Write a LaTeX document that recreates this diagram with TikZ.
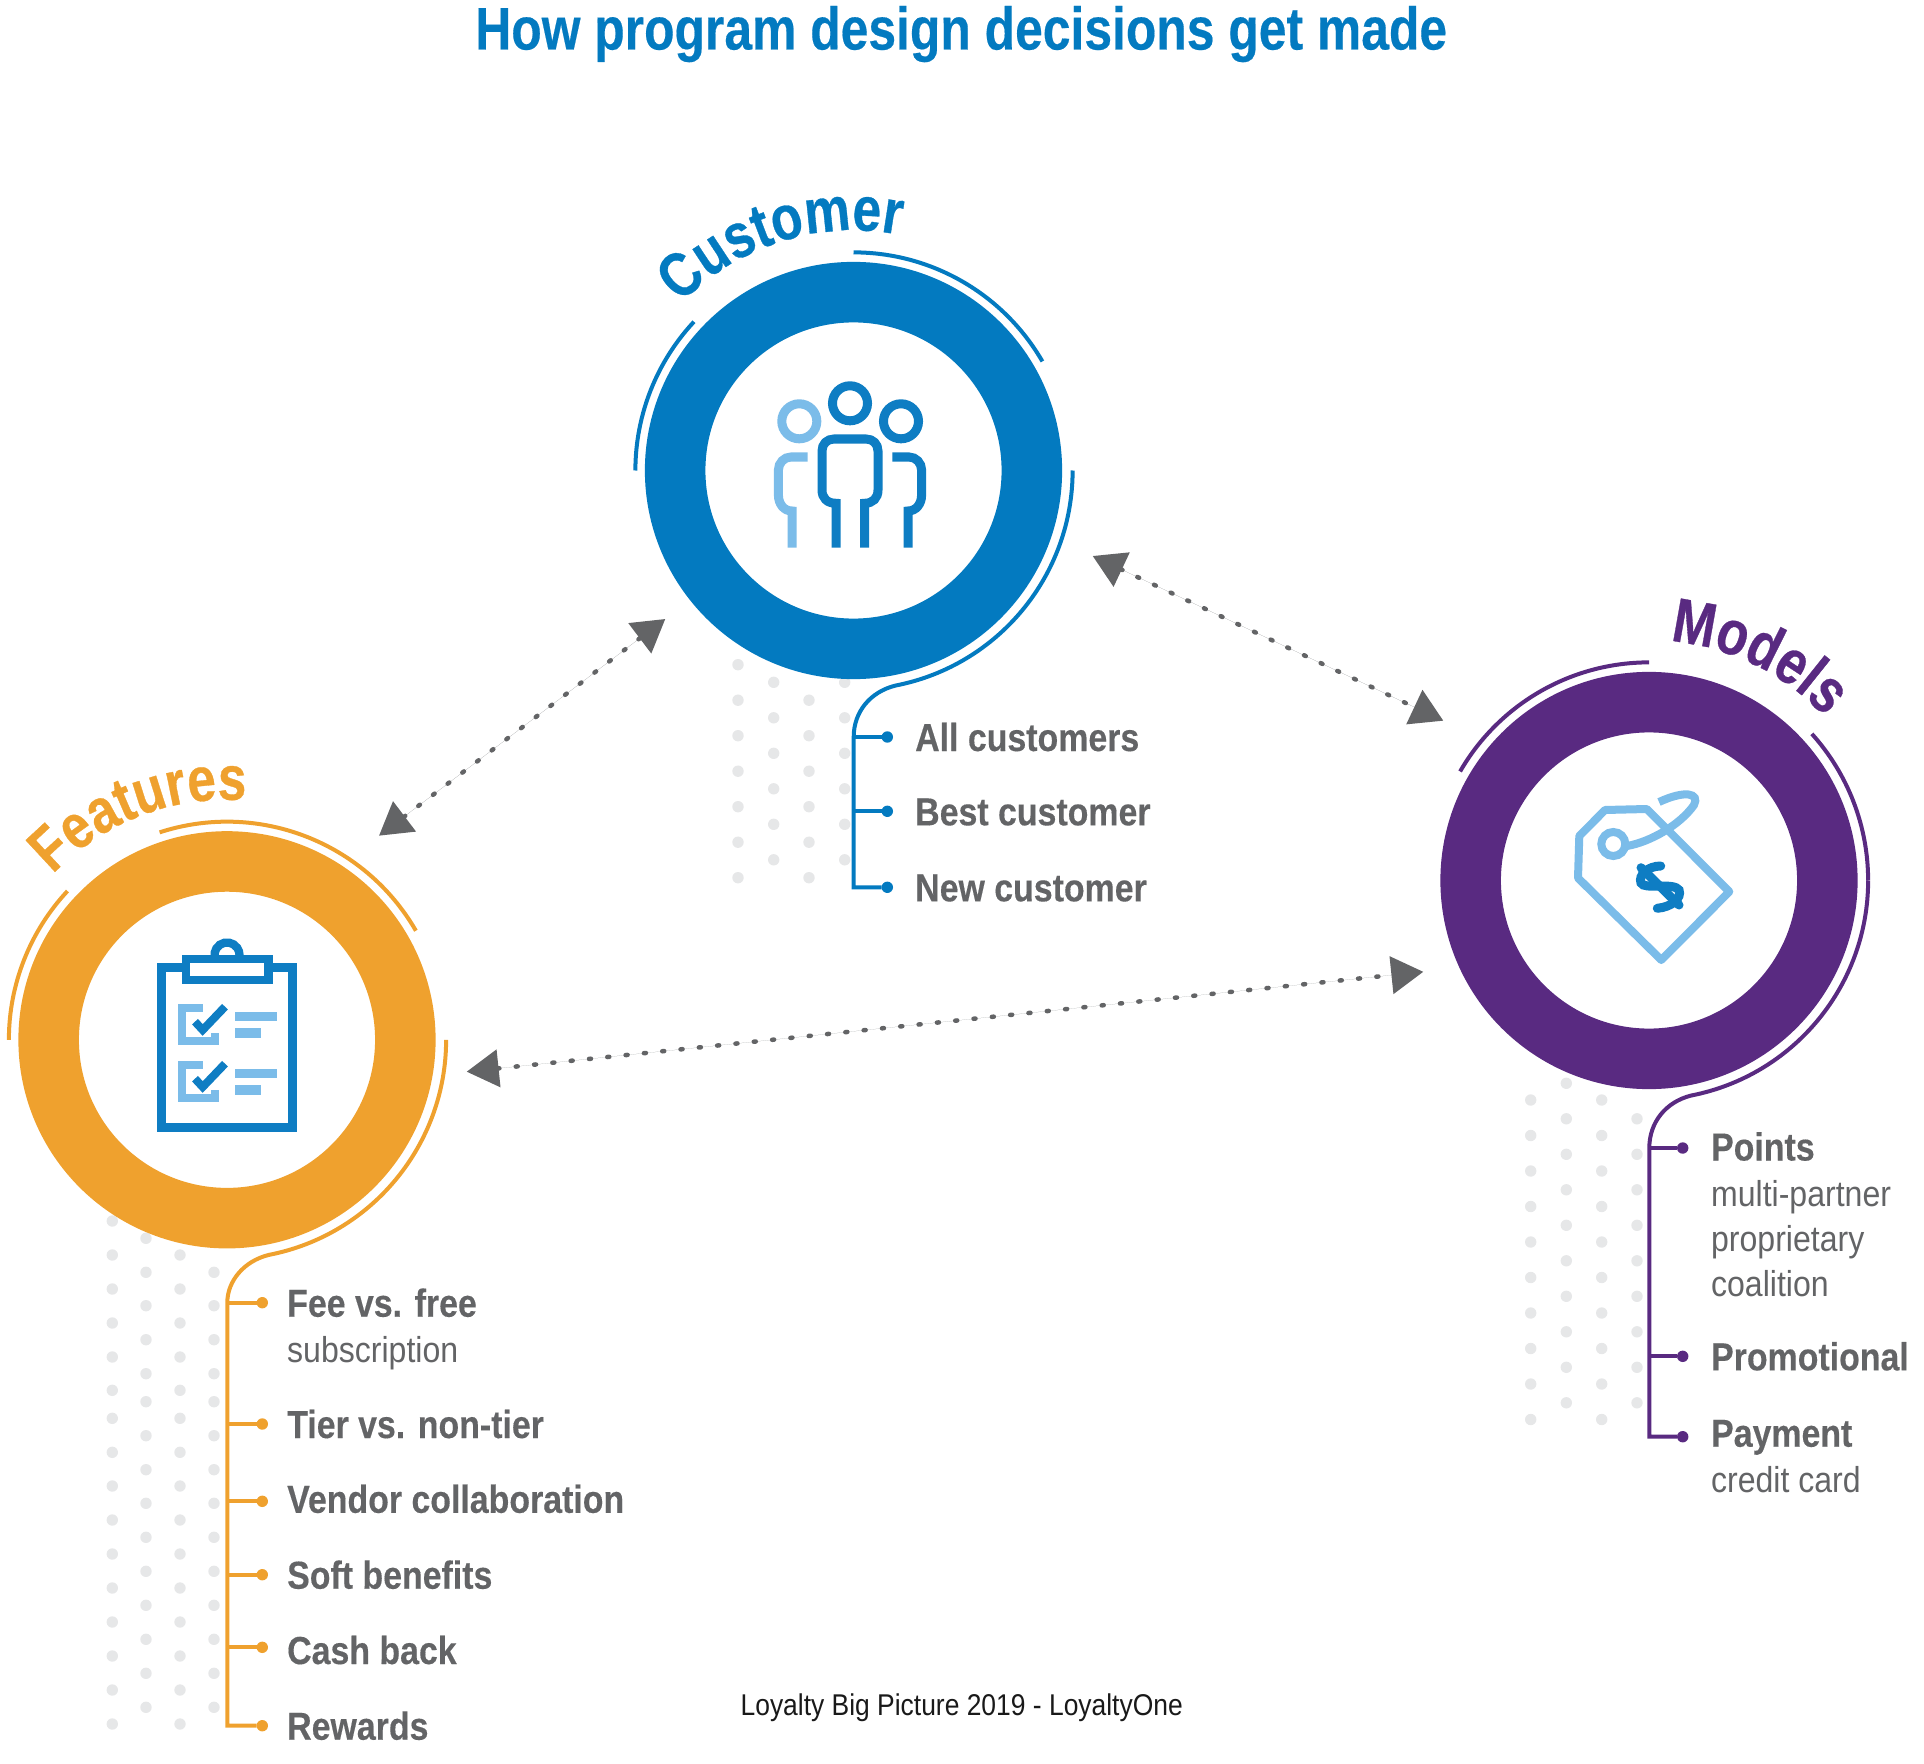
\documentclass[tikz,border=0pt]{standalone}
\usepackage{fontspec}
\usetikzlibrary{arrows.meta, positioning, calc, decorations.text}
\newfontfamily\condfont[FakeStretch=.868,BoldFeatures={FakeBold=.3}]{Liberation Sans}
\newfontfamily\titlefont[FakeStretch=.83,BoldFeatures={FakeBold=.3}]{Liberation Sans}
\newfontfamily\arcfont[FakeStretch=.82,BoldFeatures={FakeBold=.5}]{Liberation Sans}
\newfontfamily\subfont[FakeStretch=.89]{Liberation Sans}
\newfontfamily\notefont[FakeStretch=.88]{Liberation Sans}
\newcommand{\arclabelfont}{\arcfont\bfseries\fontsize{17.8}{20}\selectfont}
\definecolor{custblue}{HTML}{037AC0}
\definecolor{iconblue}{HTML}{0E7DC3}
\definecolor{iconlight}{HTML}{7BBCE9}
\definecolor{featorange}{HTML}{EFA12E}
\definecolor{modpurple}{HTML}{592A81}
\definecolor{txtgrey}{HTML}{636466}
\definecolor{gridgrey}{HTML}{E6E7E8}
\tikzset{
  ring/.style     ={circle, draw=#1, fill=white, line width=.605cm,
                    minimum size=3.565cm, inner sep=0pt},
  thinarc/.style  ={draw=#1, line width=.04cm},
  leadline/.style ={draw=#1, line width=.04cm},
  tickdot/.style  ={circle, fill=#1, minimum size=.114cm, inner sep=0pt, outer sep=0pt},
  griddot/.style  ={fill=gridgrey},
  itemhd/.style   ={inner sep=0pt, text=txtgrey, text height=.28cm, text depth=0pt,
                    font=\condfont\bfseries\fontsize{11.1}{13}\selectfont},
  itemsub/.style  ={inner sep=0pt, text=txtgrey, align=left,
                    font=\subfont\fontsize{10.24}{12.75}\selectfont},
  dblarr/.style   ={{Triangle[length=3.2mm,width=3.7mm]}-{Triangle[length=3.2mm,width=3.7mm]},
                    draw=txtgrey, fill=txtgrey, line width=.045cm, line cap=round,
                    dash pattern=on .02cm off .164cm},
  icondark/.style ={draw=iconblue, line width=.09cm},
  iconpale/.style ={draw=iconlight, line width=.09cm}
}
\begin{document}
\begin{tikzpicture}[x=.01cm, y=-.01cm]
  \useasboundingbox (0,0) rectangle (1924,1764);

  % dot fields behind the rings
  \foreach \x in {738,809} \foreach \n in {0,...,6}
    \fill[griddot] (\x,{664.7+35.5*\n}) circle[radius=.057cm];
  \foreach \x in {773.7,844.7} \foreach \n in {0,...,5}
    \fill[griddot] (\x,{682.3+35.5*\n}) circle[radius=.057cm];
  \foreach \x in {1530.7,1601.7} \foreach \n in {0,...,9}
    \fill[griddot] (\x,{1100+35.5*\n}) circle[radius=.057cm];
  \foreach \x in {1566.3,1637} \foreach \n in {0,...,9}
    \fill[griddot] (\x,{1083.3+35.5*\n}) circle[radius=.057cm];
  \foreach \x in {112.3,180} \foreach \y in {1221,1255,1289,1323,1357,1390.3,1418.3,1452.3,1486,1520,1554,1588,1622,1656,1690,1724}
    \fill[griddot] (\x,\y) circle[radius=.057cm];
  \foreach \x in {146,214} \foreach \y in {1238.3,1272.3,1305.7,1339.7,1373.7,1401.7,1435.7,1469.7,1503.3,1537.3,1571.3,1605.3,1639.3,1673.3,1707.3}
    \fill[griddot] (\x,\y) circle[radius=.057cm];

  % title and note
  \node[anchor=base, text=custblue, inner sep=0pt, font=\titlefont\bfseries\fontsize{17.07}{20}\selectfont] (title) at (961.2,49.5) {How program design decisions get made};
  \node[anchor=base, text=black!90, inner sep=0pt, font=\notefont\fontsize{8.54}{10}\selectfont] (note) at (961.7,1715) {Loyalty Big Picture 2019 - LoyaltyOne};

  % rings
  \node[ring=custblue] (customer) at (853.5,470.5) {};
  \node[ring=modpurple] (models) at (1649,880.5) {};
  \node[ring=featorange] (features) at (227,1039.8) {};

  % thin arcs
  \draw[thinarc=custblue] ($(customer.center)+(90:2.18cm)$) arc[start angle=90, end angle=30, radius=2.18cm];
  \draw[thinarc=custblue] ($(customer.center)+(137:2.18cm)$) arc[start angle=137, end angle=180, radius=2.18cm];
  \draw[thinarc=modpurple] ($(models.center)+(90:2.18cm)$) arc[start angle=90, end angle=150, radius=2.18cm];
  \draw[thinarc=featorange] ($(features.center)+(108:2.18cm)$) arc[start angle=108, end angle=30, radius=2.18cm];
  \draw[thinarc=featorange] ($(features.center)+(137:2.18cm)$) arc[start angle=137, end angle=180, radius=2.18cm];

  % curved labels
  \path[decorate, decoration={text along path, text={|\arclabelfont\color{custblue}|Customer}}]
    ($(customer.center)+(136:2.4cm)$) arc[start angle=136, end angle=60, radius=2.4cm];
  \path[decorate, decoration={text along path, text={|\arclabelfont\color{modpurple}|Models}}]
    ($(models.center)+(85:2.4cm)$) arc[start angle=85, end angle=20, radius=2.4cm];
  \path[decorate, decoration={text along path, text={|\arclabelfont\color{featorange}|Features}}]
    ($(features.center)+(136.5:2.4cm)$) arc[start angle=136.5, end angle=60, radius=2.4cm];

  % customer list
  \node[tickdot=custblue] (allDot) at (887.3,737) {};
  \node[tickdot=custblue] (bestDot) at (887.3,811.3) {};
  \node[tickdot=custblue] (newDot) at (887.3,887.3) {};
  \coordinate (allJoin) at (853.7,737);
  \coordinate (bestJoin) at (853.7,811.3);
  \coordinate (newJoin) at (853.7,887.3);
  \node[itemhd, right=.215cm of allDot] (allTxt) {All customers};
  \node[itemhd, right=.215cm of bestDot] (bestTxt) {Best customer};
  \node[itemhd, right=.215cm of newDot] (newTxt) {New customer};
  \draw[leadline=custblue] ($(customer.center)+(0:2.19cm)$) arc[start angle=0, end angle=-79, radius=2.19cm]
    .. controls (870,692) and (853.7,712) .. (allJoin) -- (newJoin) -- (newDot);
  \draw[leadline=custblue] (allJoin) -- (allDot);
  \draw[leadline=custblue] (bestJoin) -- (bestDot);

  % models list
  \node[tickdot=modpurple] (pointsDot) at (1682.7,1148) {};
  \node[tickdot=modpurple] (promoDot) at (1682.7,1356.3) {};
  \node[tickdot=modpurple] (payDot) at (1682.7,1436.7) {};
  \coordinate (pointsJoin) at (1649.3,1148);
  \coordinate (promoJoin) at (1649.3,1356.3);
  \coordinate (payJoin) at (1649.3,1436.7);
  \node[itemhd, right=.22cm of pointsDot, yshift=.015cm] (pointsTxt) {Points};
  \node[itemsub, below=.185cm of pointsTxt.south west, anchor=north west] (pointsSub) {multi-partner\\proprietary\\coalition};
  \node[itemhd, right=.22cm of promoDot] (promoTxt) {Promotional};
  \node[itemhd, right=.22cm of payDot, yshift=.04cm] (payTxt) {Payment};
  \node[itemsub, below=.18cm of payTxt.south west, anchor=north west] (paySub) {credit card};
  \draw[leadline=modpurple] ($(models.center)+(0:2.19cm)$) arc[start angle=0, end angle=-79, radius=2.19cm]
    .. controls (1666,1102) and (1649.3,1122) .. (pointsJoin) -- (payJoin) -- (payDot);
  \draw[leadline=modpurple] ($(models.center)+(42:2.19cm)$) arc[start angle=42, end angle=0, radius=2.19cm];
  \draw[leadline=modpurple] (pointsJoin) -- (pointsDot);
  \draw[leadline=modpurple] (promoJoin) -- (promoDot);

  % features list
  \node[tickdot=featorange] (feeDot) at (262.3,1302.7) {};
  \node[tickdot=featorange] (tierDot) at (262.3,1424) {};
  \node[tickdot=featorange] (vendorDot) at (262.3,1501.3) {};
  \node[tickdot=featorange] (softDot) at (262.3,1574.7) {};
  \node[tickdot=featorange] (cashDot) at (262.3,1647.3) {};
  \node[tickdot=featorange] (rewardDot) at (262.3,1725.7) {};
  \coordinate (feeJoin) at (227.3,1302.7);
  \coordinate (tierJoin) at (227.3,1424);
  \coordinate (vendorJoin) at (227.3,1501.3);
  \coordinate (softJoin) at (227.3,1574.7);
  \coordinate (cashJoin) at (227.3,1647.3);
  \coordinate (rewardJoin) at (227.3,1725.7);
  \node[itemhd, right=.185cm of feeDot] (feeTxt) {Fee vs. free};
  \node[itemsub, below=.18cm of feeTxt.south west, anchor=north west] (feeSub) {subscription};
  \node[itemhd, right=.185cm of tierDot] (tierTxt) {Tier vs. non-tier};
  \node[itemhd, right=.185cm of vendorDot, yshift=.025cm] (vendorTxt) {Vendor collaboration};
  \node[itemhd, right=.185cm of softDot] (softTxt) {Soft benefits};
  \node[itemhd, right=.185cm of cashDot, yshift=-.027cm] (cashTxt) {Cash back};
  \node[itemhd, right=.185cm of rewardDot] (rewardTxt) {Rewards};
  \draw[leadline=featorange] ($(features.center)+(0:2.19cm)$) arc[start angle=0, end angle=-79, radius=2.19cm]
    .. controls (244,1261) and (227.3,1281) .. (feeJoin) -- (rewardJoin) -- (rewardDot);
  \draw[leadline=featorange] (feeJoin) -- (feeDot);
  \draw[leadline=featorange] (tierJoin) -- (tierDot);
  \draw[leadline=featorange] (vendorJoin) -- (vendorDot);
  \draw[leadline=featorange] (softJoin) -- (softDot);
  \draw[leadline=featorange] (cashJoin) -- (cashDot);

  % dotted links
  \coordinate (custLo) at (665.3,619);
  \coordinate (featUp) at (379,835.7);
  \coordinate (custRi) at (1092.7,556);
  \coordinate (modUp) at (1443.3,720.7);
  \coordinate (featRi) at (466.7,1071.7);
  \coordinate (modLe) at (1423.3,971.8);
  \draw[dblarr] (featUp) -- (custLo);
  \draw[dblarr] (custRi) -- (modUp);
  \draw[dblarr] (featRi) -- (modLe);

  % people icon
  \draw[icondark] (850,403.3) circle[radius=.175cm];
  \draw[icondark] (901,421.3) circle[radius=.175cm];
  \draw[iconpale] (799.3,421.3) circle[radius=.175cm];
  \draw[icondark] (836,547.7) -- (836,503.3) .. controls (827,503.3) and (822,498) .. (822,490)
    -- (822,451) .. controls (822,444) and (827,439) .. (834,439) -- (866,439)
    .. controls (873,439) and (878,444) .. (878,451) -- (878,490)
    .. controls (878,498) and (873,503.3) .. (864.5,503.3) -- (864.5,547.7);
  \draw[iconpale] (807.7,457) -- (791,457) .. controls (784,457) and (778.4,463) .. (778.4,470)
    -- (778.4,495) .. controls (778.4,504) and (784,511) .. (792,511) -- (792,547.7);
  \draw[icondark] (892.3,457) -- (909,457) .. controls (916,457) and (921.6,463) .. (921.6,470)
    -- (921.6,495) .. controls (921.6,504) and (916,511) .. (908,511) -- (908,547.7);

  % price tag icon
  \draw[iconpale, line width=.08cm, line join=round] (1605,810) -- (1646.7,809) -- (1729.3,891.7)
    -- (1661.3,960) -- (1578,878) -- (1579.3,836) -- cycle;
  \draw[iconpale, line width=.08cm] (1613.3,844) circle[radius=.12cm];
  \draw[iconpale, line width=.08cm] (1627,846) .. controls (1650,842) and (1680,825) .. (1694,805)
    .. controls (1700,793) and (1685,790) .. (1659,802);
  \draw[icondark, line width=.09cm, line cap=round] (1660.7,866) .. controls (1648,866) and (1638,875) .. (1641,883)
    .. controls (1644,890) and (1674,882) .. (1679,890) .. controls (1682,898) and (1672,907) .. (1657.3,908.3);
  \draw[icondark, line width=.09cm, line cap=round] (1641,867.7) -- (1679,905);

  % clipboard icon
  \draw[icondark, line width=.083cm] (161.5,967.5) rectangle (292.5,1127.5);
  \draw[icondark, line width=.083cm] ($(227,955)+(215:.125cm)$) arc[start angle=215, end angle=-35, radius=.125cm];
  \draw[icondark, line width=.083cm, fill=white] (186,959) rectangle (268.5,980);
  \foreach \dy in {0,57} {
    \draw[iconpale, line width=.083cm] (202.7,{1008.2+\dy}) -- (181.8,{1008.2+\dy}) -- (181.8,{1041.2+\dy})
      -- (214.8,{1041.2+\dy}) -- (214.8,{1033+\dy});
    \draw[icondark, line width=.08cm] (195,{1021.7+\dy}) -- (202.7,{1030+\dy}) -- (225,{1006.7+\dy});
    \fill[iconlight] (235,{1012+\dy}) rectangle (277,{1021+\dy});
    \fill[iconlight] (235,{1028.3+\dy}) rectangle (261,{1038+\dy});
  }
\end{tikzpicture}
\end{document}
